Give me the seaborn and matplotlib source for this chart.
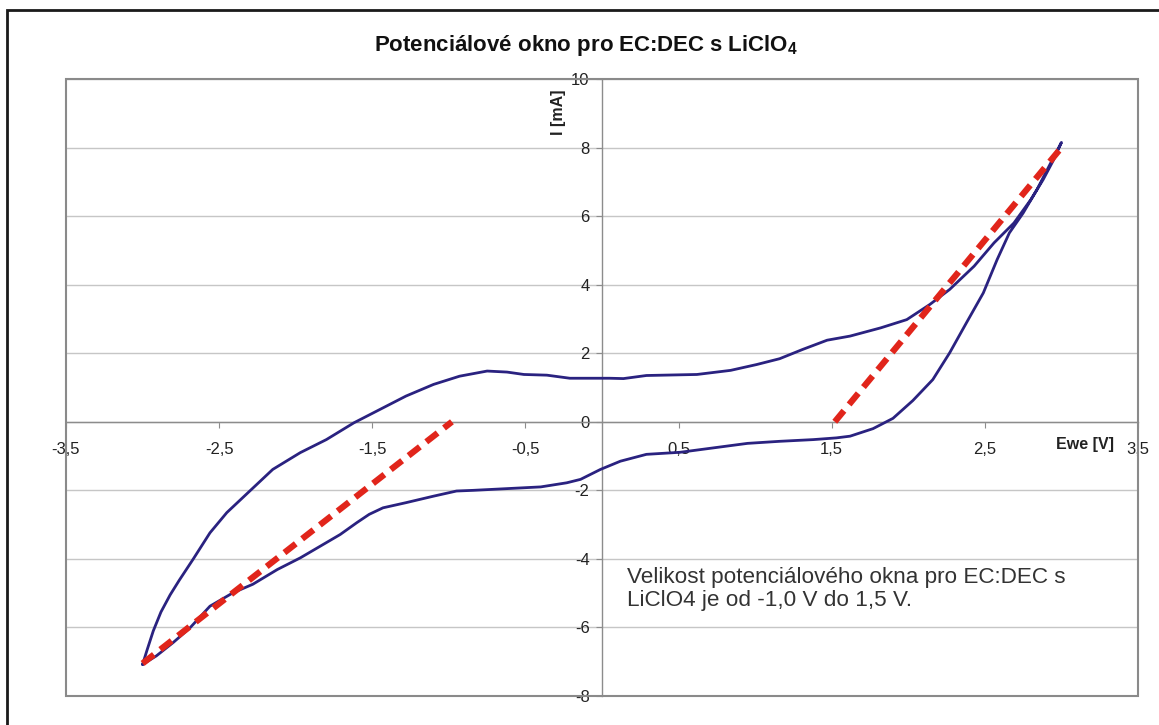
import numpy as np
import pandas as pd
import matplotlib
matplotlib.use("Agg")
import matplotlib.pyplot as plt
from matplotlib.patches import Rectangle
import seaborn as sns

# ---- data ----
ewe_fwd = [-3.00, -2.97, -2.93, -2.88, -2.82, -2.76, -2.67, -2.56, -2.45, -2.30, -2.15,
           -1.97, -1.80, -1.62, -1.45, -1.28, -1.10, -0.93, -0.75, -0.62, -0.51,
           -0.36, -0.21, 0.05, 0.14, 0.29, 0.62, 0.84, 1.01, 1.16, 1.31,
           1.47, 1.62, 1.82, 1.99, 2.14, 2.27, 2.43, 2.56, 2.69, 2.80,
           2.88, 2.95, 3.00]
i_fwd = [-7.08, -6.65, -6.10, -5.55, -5.05, -4.62, -4.01, -3.24, -2.65, -2.02, -1.39,
         -0.90, -0.52, -0.03, 0.36, 0.75, 1.09, 1.33, 1.48, 1.45, 1.38,
         1.36, 1.27, 1.27, 1.26, 1.35, 1.38, 1.50, 1.67, 1.84, 2.11,
         2.38, 2.50, 2.74, 2.98, 3.42, 3.86, 4.54, 5.22, 5.80, 6.48,
         7.06, 7.65, 8.15]
ewe_rev = [3.00, 2.93, 2.84, 2.75, 2.66, 2.58, 2.49, 2.38, 2.27, 2.16,
           2.03, 1.90, 1.77, 1.62, 1.53, 1.38, 1.16, 0.95, 0.73, 0.51,
           0.29, 0.12, -0.01, -0.14, -0.23, -0.40, -0.62, -0.84, -0.95, -1.10,
           -1.28, -1.43, -1.52, -1.60, -1.71, -1.84, -1.97, -2.12, -2.28, -2.41,
           -2.56, -2.69, -2.80, -2.91, -3.00]
i_rev = [8.15, 7.55, 6.77, 6.09, 5.51, 4.73, 3.76, 2.89, 2.01, 1.23,
         0.62, 0.10, -0.20, -0.42, -0.47, -0.52, -0.57, -0.63, -0.76, -0.89,
         -0.95, -1.15, -1.39, -1.68, -1.78, -1.90, -1.95, -2.00, -2.02, -2.17,
         -2.36, -2.51, -2.70, -2.94, -3.29, -3.63, -3.97, -4.31, -4.74, -4.99,
         -5.38, -6.01, -6.44, -6.83, -7.08]

fit_neg_ewe = [-3.00, -0.98]
fit_neg_i = [-7.05, 0.00]
fit_pos_ewe = [1.52, 3.00]
fit_pos_i = [0.00, 8.00]

x_ticks = [-3.5, -2.5, -1.5, -0.5, 0.5, 1.5, 2.5, 3.5]
x_ticklabels = ["-3,5", "-2,5", "-1,5", "-0,5", "0,5", "1,5", "2,5", "3,5"]
y_ticks = [-8, -6, -4, -2, 0, 2, 4, 6, 8, 10]
y_ticklabels = ["-8", "-6", "-4", "-2", "0", "2", "4", "6", "8", "10"]

title = "Potenciálové okno pro EC:DEC s LiClO$_4$"
x_label = "Ewe [V]"
y_label = "I [mA]"
note = "Velikost potenciálového okna pro EC:DEC s\nLiClO4 je od -1,0 V do 1,5 V."

# ---- style ----
sns.set_style("white")
plt.rcParams['font.family'] = ['Liberation Sans', 'DejaVu Sans']
plt.rcParams['mathtext.fontset'] = 'custom'
plt.rcParams['mathtext.rm'] = 'Liberation Sans:bold'
plt.rcParams['mathtext.default'] = 'rm'

W, H = 1159, 725
fig = plt.figure(figsize=(W / 100, H / 100), dpi=100)
fig.patch.set_facecolor("white")
ax = fig.add_axes([66 / W, 1 - 696 / H, 1072 / W, 617 / H])

cv = pd.DataFrame({"ewe": ewe_fwd + ewe_rev, "i": i_fwd + i_rev})
sns.lineplot(data=cv, x="ewe", y="i", sort=False, estimator=None,
             color="#2a2280", lw=2.0, ax=ax, zorder=3)
ax.lines[-1].set_solid_joinstyle("round")

for xs, ys in [(fit_neg_ewe, fit_neg_i), (fit_pos_ewe, fit_pos_i)]:
    d = pd.DataFrame({"ewe": xs, "i": ys})
    sns.lineplot(data=d, x="ewe", y="i", sort=False, estimator=None,
                 color="#e1251b", lw=4.5, ax=ax, zorder=4)
    ln = ax.lines[-1]
    ln.set_dashes([2.3, 1.3])
    ln.set_dash_capstyle("butt")

ax.set_xlim(-3.5, 3.5)
ax.set_ylim(-8, 10)
ax.set_xticks(x_ticks)
ax.set_xticklabels(x_ticklabels)
ax.set_yticks(y_ticks)
ax.set_yticklabels(y_ticklabels)

ax.yaxis.grid(True, color="#c6c6c6", lw=1.0)
ax.xaxis.grid(False)
ax.set_axisbelow(True)

for s in ["top", "right"]:
    ax.spines[s].set_visible(False)
ax.spines["left"].set_position(("data", 0))
ax.spines["bottom"].set_position(("data", 0))
for s in ["left", "bottom"]:
    ax.spines[s].set_color("#8c8c8c")
    ax.spines[s].set_linewidth(1.0)

ax.tick_params(axis="x", direction="out", length=4, width=0.8, color="#8c8c8c",
               pad=10.5, labelsize=12, labelcolor="#222222", bottom=True)
ax.tick_params(axis="y", direction="out", length=4, width=0.8, color="#8c8c8c",
               pad=5, labelsize=12, labelcolor="#222222", left=True)

ax.add_patch(Rectangle((0, 0), 1, 1, transform=ax.transAxes, fill=False,
                       edgecolor="#8a8a8a", lw=1.5, clip_on=False, zorder=5))

ax.set_xlabel(x_label, fontsize=11.5, fontweight="bold", color="#222222")
ax.xaxis.set_label_coords(0.9506, 0.407)
ax.xaxis.label.set_ha("center")
ax.xaxis.label.set_va("center")
ax.set_ylabel(y_label, fontsize=11.5, fontweight="bold", color="#222222")
ax.yaxis.set_label_coords(0.459, 0.946)
ax.yaxis.label.set_va("center")

ax.text(0.16, -4.89, note, fontsize=16.2, color="#333333", ha="left", va="center",
        linespacing=1.12, zorder=6)

fig.text(586 / W, 1 - 45 / H, title, fontsize=16, fontweight="bold",
         ha="center", va="center", color="#111111")

fig.add_artist(Rectangle((7 / W, -0.05), 1.2, 1 - 10 / H + 0.05,
                         transform=fig.transFigure, fill=False,
                         edgecolor="#1a1a1a", lw=2.0))

fig.savefig("out.png", dpi=100)
